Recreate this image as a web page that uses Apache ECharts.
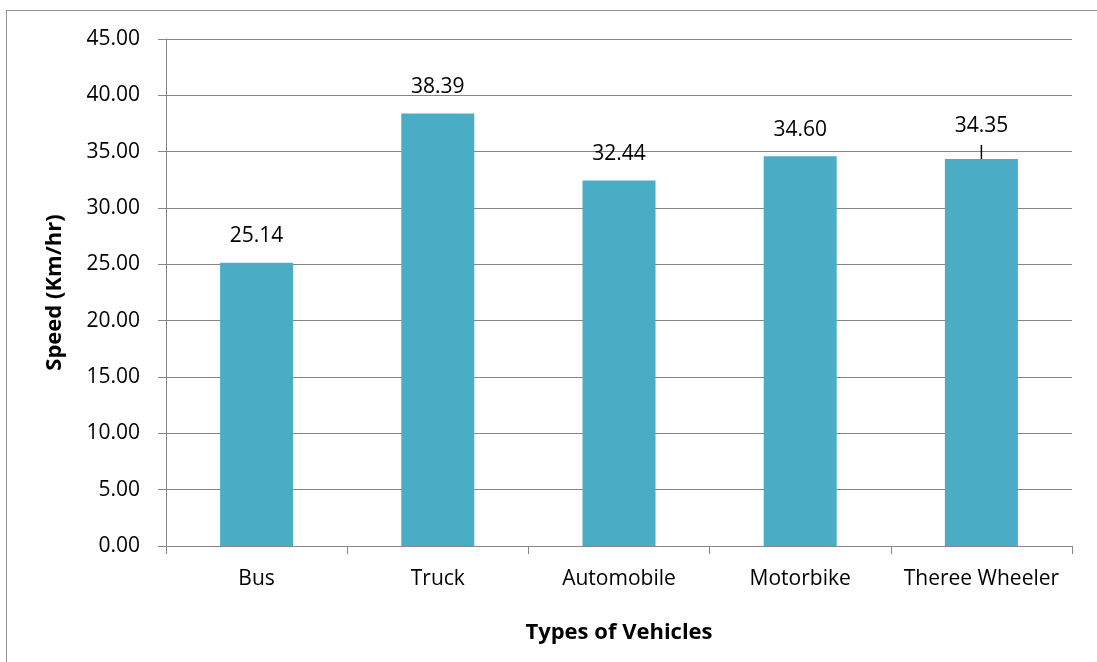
<!DOCTYPE html>
<html>
<head>
<meta charset="utf-8">
<script src="https://cdn.jsdelivr.net/npm/echarts@6/dist/echarts.min.js"></script>
<style>
    html, body { margin: 0; padding: 0; background: #fff; overflow: hidden; }
    #frame { position: absolute; left: 6px; top: 10px; width: 1200px; height: 800px; border: 1px solid #8f8f8f; }
    #chart { position: absolute; left: 0; top: 0; width: 1097px; height: 662px; }
</style>
</head>
<body>
<div id="frame"></div>
<div id="chart"></div>
<script>
// 车辆类型与平均速度
var vehicleTypes = ['Bus', 'Truck', 'Automobile', 'Motorbike', 'Theree Wheeler'];
var speedValues = [25.14, 38.39, 32.44, 34.60, 34.35];
// 最后一个标签被拉高，带一条引线 [类别序号, 起点, 终点]
var leaderLines = [[4, 34.35, 35.6]];

var fontName = '"Open Sans", sans-serif';
var gridColor = '#868686';
var barColor = '#4bacc6';

var chart = echarts.init(document.getElementById('chart'));

var barData = speedValues.map(function (v, i) {
    var item = { value: v };
    if (i === 4) {
        item.label = { offset: [0, -6] };
    }
    return item;
});

var option = {
    animation: false,
    grid: { left: 166, right: 25, top: 39, bottom: 116 },
    xAxis: {
        type: 'category',
        data: vehicleTypes,
        name: 'Types of Vehicles',
        nameLocation: 'middle',
        nameGap: 76,
        nameTextStyle: { fontFamily: fontName, fontSize: 22, fontWeight: 'bold', color: '#000' },
        axisLine: { lineStyle: { color: gridColor, width: 1 } },
        axisTick: { show: true, length: 8, alignWithLabel: false, lineStyle: { color: gridColor } },
        axisLabel: { fontFamily: fontName, fontSize: 21, color: '#000', margin: 23, interval: 0 }
    },
    yAxis: {
        type: 'value',
        min: 0,
        max: 45,
        interval: 5,
        name: 'Speed (Km/hr)',
        nameLocation: 'middle',
        nameGap: 100,
        nameTextStyle: { fontFamily: fontName, fontSize: 22, fontWeight: 'bold', color: '#000' },
        axisLine: { show: true, lineStyle: { color: gridColor, width: 1 } },
        axisTick: { show: true, length: 8, lineStyle: { color: gridColor } },
        axisLabel: {
            fontFamily: fontName, fontSize: 21, color: '#000', margin: 26,
            formatter: function (v) { return v.toFixed(2); }
        },
        splitLine: { lineStyle: { color: gridColor, width: 1 } }
    },
    series: [
        {
            type: 'bar',
            data: barData,
            barWidth: 73,
            itemStyle: { color: barColor },
            label: {
                show: true,
                position: 'top',
                distance: 16,
                fontFamily: fontName,
                fontSize: 21,
                color: '#000',
                formatter: function (p) { return p.value.toFixed(2); }
            }
        },
        {
            type: 'custom',
            data: leaderLines,
            encode: { x: 0, y: [1, 2] },
            renderItem: function (params, api) {
                var p1 = api.coord([api.value(0), api.value(1)]);
                var p2 = api.coord([api.value(0), api.value(2)]);
                return {
                    type: 'line',
                    shape: { x1: p1[0], y1: p1[1], x2: p2[0], y2: p2[1] },
                    style: { stroke: '#000', lineWidth: 1.5 }
                };
            },
            z: 5
        }
    ]
};

chart.setOption(option);
</script>
</body>
</html>
